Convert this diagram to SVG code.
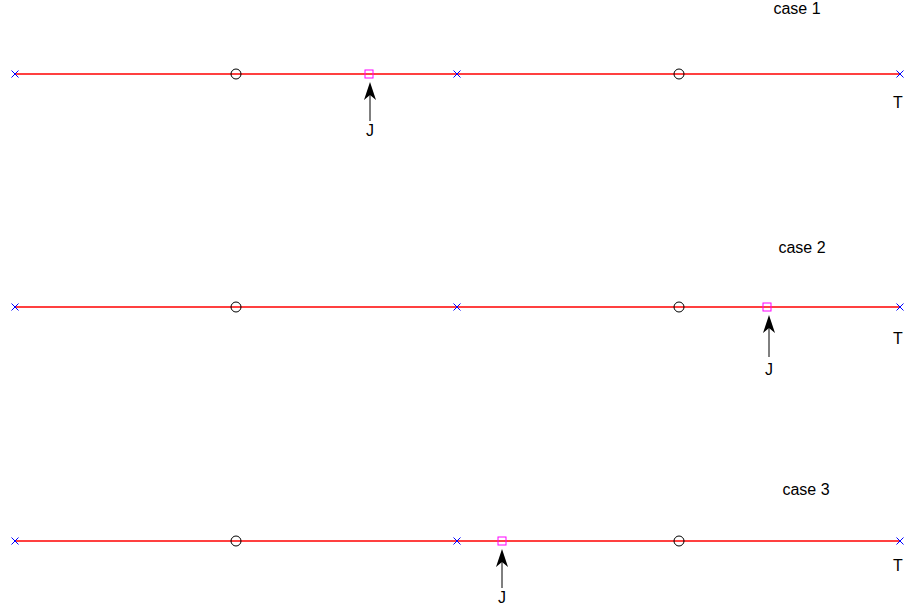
<svg xmlns="http://www.w3.org/2000/svg" width="913" height="611" viewBox="0 0 913 611">
<style>
.line{stroke:#ff0000;stroke-width:1.5;fill:none}
.x{stroke:#0000ff;stroke-width:1;fill:none}
.o{stroke:#000;stroke-width:1;fill:none}
.sq{stroke:#ff00ff;stroke-width:1;fill:none}
.ar{stroke:#000;stroke-width:1;fill:none}
text{font-family:"Liberation Sans",Arial,sans-serif;font-size:16px;fill:#000}
</style>
<defs>
<path id="xm" d="M-3.5,-3.5L3.5,3.5M-3.5,3.5L3.5,-3.5"/>
<path id="ah" d="M0,0L-6,18L0,13L6,18Z"/>
</defs>
<g id="case1">
<text x="797" y="14" text-anchor="middle">case 1</text>
<line class="line" x1="15" y1="74" x2="900" y2="74"/>
<use href="#xm" class="x" x="15" y="74"/>
<use href="#xm" class="x" x="457" y="74"/>
<use href="#xm" class="x" x="900" y="74"/>
<circle class="o" cx="236" cy="74" r="5"/>
<circle class="o" cx="679" cy="74" r="5"/>
<rect class="sq" x="365" y="70" width="8" height="8"/>
<line class="ar" x1="370" y1="95" x2="370" y2="121"/>
<use href="#ah" x="370" y="82" fill="#000"/>
<text x="370" y="136" text-anchor="middle">J</text>
<text x="898" y="108" text-anchor="middle">T</text>
</g>
<g id="case2">
<text x="802" y="253" text-anchor="middle">case 2</text>
<line class="line" x1="15" y1="307" x2="900" y2="307"/>
<use href="#xm" class="x" x="15" y="307"/>
<use href="#xm" class="x" x="457" y="307"/>
<use href="#xm" class="x" x="900" y="307"/>
<circle class="o" cx="236" cy="307" r="5"/>
<circle class="o" cx="679" cy="307" r="5"/>
<rect class="sq" x="763" y="303" width="8" height="8"/>
<line class="ar" x1="769" y1="328" x2="769" y2="357"/>
<use href="#ah" x="769" y="315" fill="#000"/>
<text x="769" y="375" text-anchor="middle">J</text>
<text x="898" y="344" text-anchor="middle">T</text>
</g>
<g id="case3">
<text x="806" y="495" text-anchor="middle">case 3</text>
<line class="line" x1="15" y1="541" x2="900" y2="541"/>
<use href="#xm" class="x" x="15" y="541"/>
<use href="#xm" class="x" x="457" y="541"/>
<use href="#xm" class="x" x="900" y="541"/>
<circle class="o" cx="236" cy="541" r="5"/>
<circle class="o" cx="679" cy="541" r="5"/>
<rect class="sq" x="498" y="537" width="8" height="8"/>
<line class="ar" x1="502" y1="562" x2="502" y2="588"/>
<use href="#ah" x="502" y="549" fill="#000"/>
<text x="502" y="603" text-anchor="middle">J</text>
<text x="898" y="571" text-anchor="middle">T</text>
</g>
</svg>
